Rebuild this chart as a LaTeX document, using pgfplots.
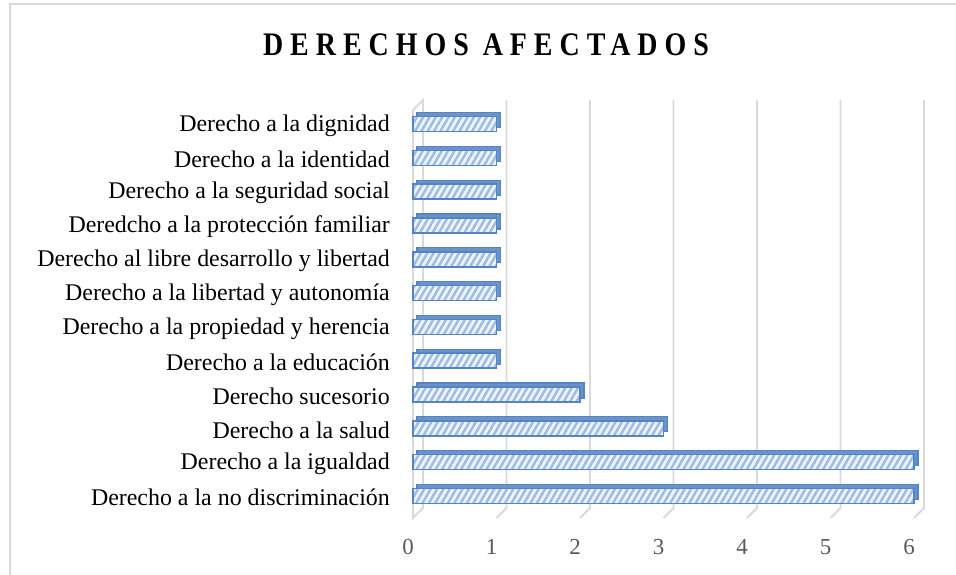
\documentclass[border=0pt]{standalone}
\usepackage{pgfplots}
\pgfplotsset{compat=1.18}
\usepackage{fontspec}
\setmainfont{Liberation Serif}
\newfontfamily\titlefont[LetterSpace=25]{Liberation Serif}
\usetikzlibrary{patterns.meta}
\definecolor{gridcol}{HTML}{D9D9D9}
\definecolor{barborder}{HTML}{5584C3}
\definecolor{bardark}{HTML}{6A93CC}
\definecolor{hatch}{HTML}{9CBBE5}
\definecolor{barfill}{HTML}{EEF3FA}
\definecolor{tickcol}{HTML}{595959}
\pgfplotstableread{
idx val
0 6
1 6
2 3
3 2
4 1
5 1
6 1
7 1
8 1
9 1
10 1
11 1
}\datatable
\begin{document}
\begin{tikzpicture}[x=1bp,y=1bp]
\path[use as bounding box] (0,0) rectangle (956,575);
\draw[gridcol, line width=2bp] (10,0) -- (10,571) -- (956,571);
\node[font=\titlefont\bfseries\fontsize{33}{36}\selectfont] at (486,530) {\scalebox{0.85}[1]{DERECHOS AFECTADOS}};
\begin{axis}[
  at={(413bp,57bp)}, anchor=south west,
  scale only axis, width=501bp, height=418bp,
  xmin=0, xmax=6, ymin=-0.65, ymax=11.71,
  clip=false,
  axis line style={draw=none},
  xbar, bar width=15bp, bar shift=0pt,
  xtick={0,...,6},
  ytick={0,...,11},
  yticklabels={Derecho a la no discriminación, Derecho a la igualdad\ , Derecho a la salud, Derecho sucesorio, Derecho a la educación, Derecho a la propiedad y herencia\ , Derecho a la libertad y autonomía, Derecho al libre desarrollo y libertad\ , Deredcho a la protección familiar, Derecho a la seguridad social, Derecho a la identidad, Derecho a la dignidad},
  major tick length=0pt,
  tick style={draw=none},
  /pgf/number format/assume math mode=true,
  xticklabel style={anchor=center, yshift=-29bp, xshift=-5bp, font=\fontsize{23}{26}\selectfont, text=tickcol},
  yticklabel style={anchor=east, inner sep=0pt, xshift=-23bp, yshift=-1.5bp, font=\fontsize{24}{26}\selectfont, text=black},
]
\pgfplotsinvokeforeach{1,...,6}{
  \draw[gridcol, line width=1.8bp] ([xshift=10bp]axis cs:#1,11.71) -- ([xshift=10bp,yshift=10bp]axis cs:#1,-0.65) -- (axis cs:#1,-0.65);
}
\draw[gridcol, line width=1.8bp, fill=white] (axis cs:0,-0.65) -- ([yshift=-10bp]axis cs:0,11.71) -- ([xshift=10bp]axis cs:0,11.71) -- ([xshift=10bp,yshift=10bp]axis cs:0,-0.65) -- cycle;
\addplot[fill=bardark, draw=barborder, line width=1.2bp, xshift=4bp, yshift=4bp] table[x=val, y=idx] {\datatable};
\addplot[fill=barfill, draw=barborder, line width=1.6bp, postaction={pattern={Lines[angle=60,distance=5.5bp,line width=2.4bp]}, pattern color=hatch}] table[x=val, y=idx] {\datatable};
\end{axis}
\end{tikzpicture}
\end{document}
